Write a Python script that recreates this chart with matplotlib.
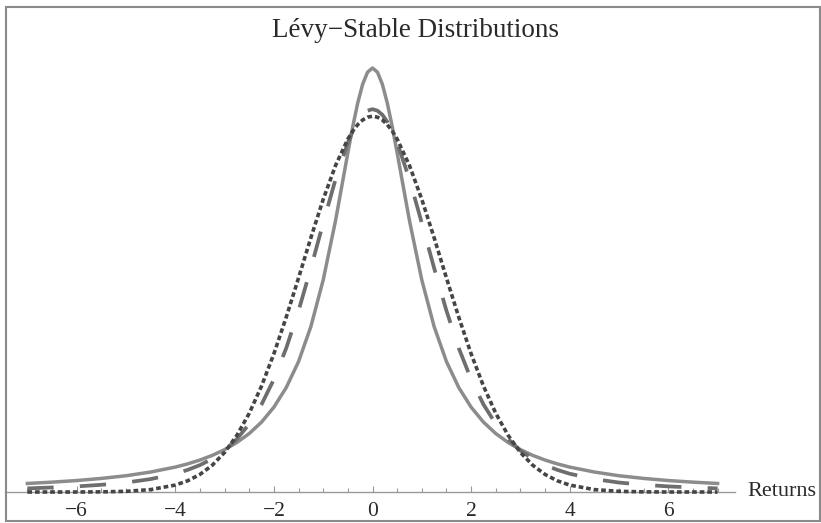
import matplotlib
matplotlib.use("Agg")
import matplotlib.pyplot as plt
from matplotlib.patches import Rectangle

# half of each curve (x >= 0), the curves are symmetric about 0
x_half = [0, 0.1, 0.2, 0.3, 0.4, 0.5, 0.75, 1.0, 1.25, 1.5, 1.75, 2.0, 2.25,
          2.5, 2.75, 3.0, 3.25, 3.5, 3.75, 4.0, 4.5, 5.0, 5.5, 6.0, 6.5, 7.0]
solid_y = [0.3183, 0.3152, 0.3061, 0.2920, 0.2744, 0.2546, 0.2037, 0.1592,
           0.1242, 0.0979, 0.0784, 0.0637, 0.0525, 0.0439, 0.0372, 0.0318,
           0.0275, 0.0240, 0.0211, 0.0187, 0.0150, 0.0122, 0.0102, 0.0086,
           0.0074, 0.0064]
dashed_y = [0.2874, 0.2863, 0.2832, 0.2780, 0.2710, 0.2623, 0.2347, 0.2020,
            0.1681, 0.1361, 0.1080, 0.0846, 0.0658, 0.0511, 0.0398, 0.0311,
            0.0249, 0.0202, 0.0166, 0.0137, 0.0097, 0.0071, 0.0054, 0.0042,
            0.0034, 0.0027]
dotted_y = [0.2821, 0.2814, 0.2793, 0.2758, 0.2710, 0.2650, 0.2451, 0.2197,
            0.1909, 0.1607, 0.1312, 0.1038, 0.0796, 0.0591, 0.0426, 0.0297,
            0.0201, 0.0132, 0.0084, 0.0052, 0.0018, 0.0005, 0.0001, 0.0000,
            0.0000, 0.0000]
major_ticks = [-6, -4, -2, 0, 2, 4, 6]
minor_ticks = [v / 2 for v in range(-14, 15) if v % 4 != 0]


def mirror(xs, ys):
    fx = [-v for v in reversed(xs[1:])] + list(xs)
    fy = list(reversed(ys[1:])) + list(ys)
    return fx, fy


serif = "Liberation Serif"
txt = "#2a2a2a"

fig = plt.figure(figsize=(8.21, 5.23), dpi=100)
ax = fig.add_axes([0, 0, 1, 1])
ax.patch.set_alpha(0)

x, y = mirror(x_half, solid_y)
ax.plot(x, y, color="#8c8c8c", lw=2.5, solid_joinstyle="round", zorder=3)
x, y = mirror(x_half, dashed_y)
ax.plot(x, y, color="#6e6e6e", lw=2.7, dashes=(7, 7), dash_capstyle="butt",
        dash_joinstyle="round", zorder=4)
x, y = mirror(x_half, dotted_y)
ax.plot(x, y, color="#454545", lw=2.6, dashes=(1.3, 0.8), dash_capstyle="butt",
        dash_joinstyle="round", zorder=5)

px = 49.3
ax.set_xlim(-372.5 / px, (821 - 372.5) / px)
ax.set_ylim(-31 / 1332.0, 492 / 1332.0)

for s in ["top", "left", "right"]:
    ax.spines[s].set_visible(False)
ax.spines["bottom"].set_position(("data", 0))
ax.spines["bottom"].set_bounds(-7.45, 7.35)
ax.spines["bottom"].set_color("#999999")
ax.spines["bottom"].set_linewidth(1.0)

ax.set_yticks([])
ax.set_xticks(major_ticks)
ax.set_xticks(minor_ticks, minor=True)
ax.set_xticklabels(["\u2212%d" % -v if v < 0 else "%d" % v for v in major_ticks],
                   fontfamily=serif, fontsize=15.5, color=txt)
ax.tick_params(axis="x", which="major", direction="in", length=4.5, width=0.8,
               color="#999999", pad=7)
ax.tick_params(axis="x", which="minor", direction="in", length=3, width=0.8,
               color="#999999")

ax.text(7.6, 0, "Returns", fontfamily=serif, fontsize=16, color=txt,
        ha="left", va="center")
fig.text(416 / 821, 1 - 37 / 523, "L\u00e9vy\u2212Stable Distributions",
         fontfamily=serif, fontsize=19.5, color=txt, ha="center", va="baseline")

fig.patches.append(Rectangle((6 / 821, 2 / 523), 814 / 821, 514 / 523,
                             transform=fig.transFigure, fill=False,
                             edgecolor="#8a8a8a", lw=1.5))

fig.savefig("out.png", dpi=100)
